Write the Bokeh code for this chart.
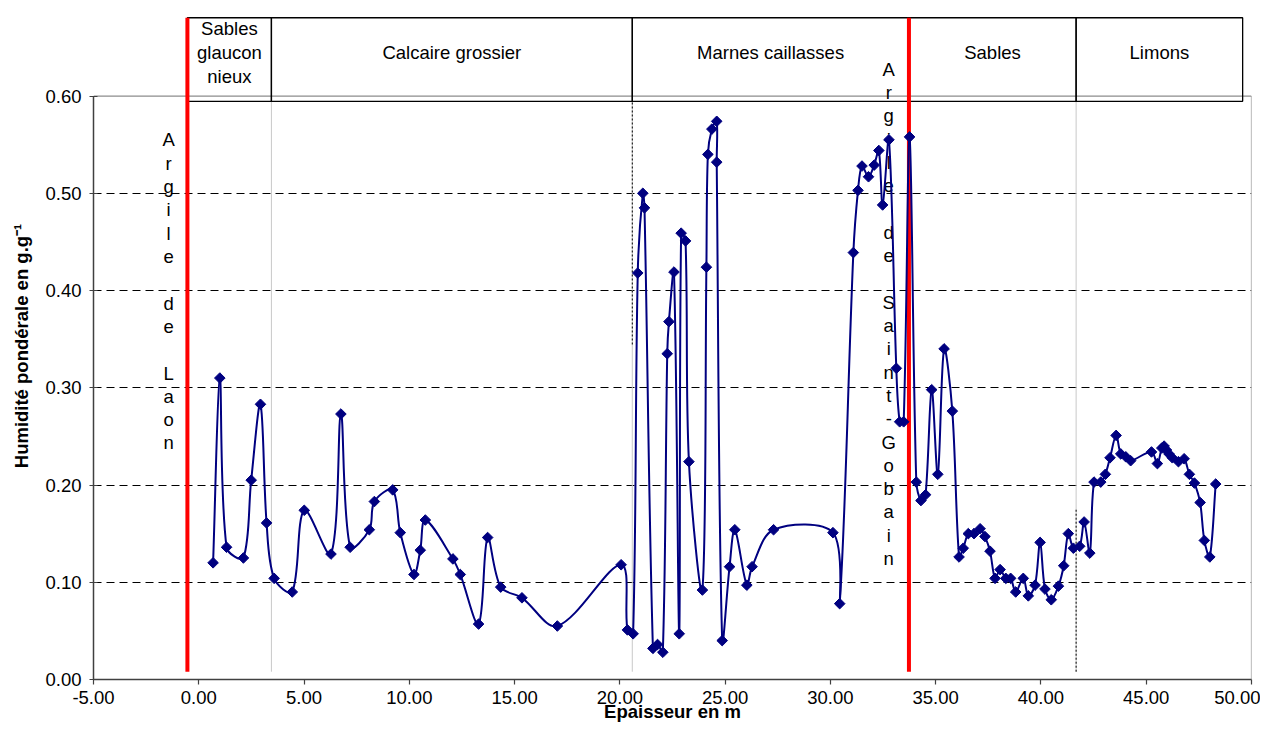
import numpy as np
from bokeh.plotting import figure
from bokeh.models import Range1d, FixedTicker, NumeralTickFormatter
from bokeh.core.properties import value
from bokeh.embed import file_html
from bokeh.resources import INLINE

# ---------------- data ----------------
depth = [0.68, 1.00, 1.32, 2.12, 2.49, 2.93, 3.22, 3.58, 4.44, 5.01,
         6.28, 6.75, 7.19, 8.10, 8.34, 9.21, 9.57, 10.22, 10.52, 10.76,
         12.07, 12.42, 13.29, 13.72, 14.34, 15.35, 17.03, 20.06, 20.36, 20.63,
         20.85, 21.09, 21.17, 21.57, 21.79, 22.04, 22.25, 22.33, 22.57, 22.82,
         22.91, 23.12, 23.28, 23.92, 24.11, 24.18, 24.37, 24.60, 24.60, 24.86,
         25.21, 25.46, 26.03, 26.28, 27.30, 30.12, 30.44, 31.09, 31.31, 31.50,
         31.81, 32.08, 32.30, 32.48, 32.78, 33.13, 33.29, 33.48, 33.76, 34.08,
         34.30, 34.52, 34.81, 35.10, 35.40, 35.79, 36.11, 36.31, 36.55, 36.82,
         37.11, 37.34, 37.58, 37.82, 38.06, 38.33, 38.56, 38.80, 39.16, 39.40,
         39.72, 39.96, 40.19, 40.49, 40.83, 41.08, 41.30, 41.54, 41.84, 42.05,
         42.32, 42.52, 42.84, 43.06, 43.28, 43.57, 43.79, 44.03, 44.26, 45.25,
         45.53, 45.74, 45.85, 45.96, 46.08, 46.24, 46.53, 46.80, 47.05, 47.29,
         47.56, 47.76, 48.02, 48.30]
humidity = [0.120, 0.310, 0.136, 0.125, 0.205, 0.283, 0.161, 0.104, 0.090, 0.174,
            0.129, 0.273, 0.136, 0.154, 0.183, 0.195, 0.151, 0.108, 0.133, 0.164,
            0.124, 0.108, 0.057, 0.146, 0.095, 0.084, 0.055, 0.118, 0.051, 0.047,
            0.418, 0.500, 0.485, 0.032, 0.036, 0.028, 0.335, 0.368, 0.419, 0.047,
            0.459, 0.451, 0.224, 0.092, 0.424, 0.540, 0.566, 0.574, 0.532, 0.040,
            0.116, 0.154, 0.097, 0.116, 0.154, 0.151, 0.078, 0.439, 0.503, 0.528,
            0.517, 0.529, 0.544, 0.488, 0.555, 0.320, 0.265, 0.265, 0.558, 0.203,
            0.184, 0.190, 0.298, 0.211, 0.340, 0.276, 0.126, 0.135, 0.150, 0.150,
            0.155, 0.147, 0.132, 0.104, 0.113, 0.104, 0.104, 0.090, 0.104, 0.086,
            0.097, 0.141, 0.093, 0.082, 0.096, 0.117, 0.150, 0.135, 0.137, 0.162,
            0.130, 0.203, 0.203, 0.211, 0.228, 0.251, 0.232, 0.229, 0.225, 0.234,
            0.222, 0.238, 0.240, 0.236, 0.232, 0.228, 0.224, 0.227, 0.211, 0.202,
            0.182, 0.143, 0.126, 0.201]

layer_names = ["Sables\nglaucon\nnieux", "Calcaire grossier", "Marnes caillasses",
               "Sables", "Limons"]
layer_bounds = [-0.54, 3.45, 20.59, 33.73, 41.67, 49.58]
clay_names = ["Argile de Laon", "Argile de Saint-Gobain"]
clay_pos = [-0.54, 33.73]
clay_label_x = [-1.43, 32.77]
clay_label_y = [0.399, 0.376]

x_ticks = [-5, 0, 5, 10, 15, 20, 25, 30, 35, 40, 45, 50]
y_ticks = [0.0, 0.1, 0.2, 0.3, 0.4, 0.5, 0.6]
grid_ticks = [0.1, 0.2, 0.3, 0.4, 0.5]

x_title = "Epaisseur en m"
y_title = "Humidité pondérale en g.g⁻¹"

# header geometry (data units)
HEAD_BOTTOM = 0.5946
HEAD_TOP = 0.6805
HEAD_TEXT_Y = 0.6447
LINE_BOTTOM = 0.008
Y_MAX = 0.6859

FONT = "Liberation Sans"
FS = "18.5px"
NAVY = "#000080"

p = figure(width=1260, height=726, x_range=Range1d(x_ticks[0], x_ticks[-1]),
           y_range=Range1d(0, Y_MAX),
           output_backend="svg", toolbar_location=None,
           min_border_left=93, min_border_right=9, min_border_top=12, min_border_bottom=47)
p.outline_line_color = None
p.background_fill_color = "white"

# axes
p.xaxis.ticker = FixedTicker(ticks=x_ticks)
p.yaxis.ticker = FixedTicker(ticks=y_ticks)
p.xaxis.formatter = NumeralTickFormatter(format="0.00")
p.yaxis.formatter = NumeralTickFormatter(format="0.00")
p.yaxis.bounds = (y_ticks[0], y_ticks[-1])
p.xaxis.bounds = (x_ticks[0], x_ticks[-1])
for ax in (p.xaxis, p.yaxis):
    ax.major_label_text_font = FONT
    ax.major_label_text_font_size = FS
    ax.major_label_text_color = "black"
    ax.axis_label_text_font = FONT
    ax.axis_label_text_font_size = FS
    ax.axis_label_text_font_style = "bold"
    ax.axis_label_text_color = "black"
    ax.axis_line_color = "#404040"
    ax.axis_line_width = 1.5
    ax.major_tick_line_color = "#404040"
    ax.major_tick_line_width = 1.2
    ax.minor_tick_line_color = None
p.xaxis.major_tick_in = 0
p.xaxis.major_tick_out = 5
p.yaxis.major_tick_in = 4
p.yaxis.major_tick_out = 4
p.xaxis.major_label_standoff = 6
p.yaxis.major_label_standoff = 8
p.xaxis.axis_label = x_title
p.yaxis.axis_label = y_title
p.xaxis.axis_label_standoff = -6
p.yaxis.axis_label_standoff = 10

p.xgrid.visible = False
p.ygrid.ticker = FixedTicker(ticks=grid_ticks)
p.ygrid.grid_line_color = "black"
p.ygrid.grid_line_dash = "8 5"
p.ygrid.grid_line_width = 1

# plot area border (top, right)
p.segment(x0=[x_ticks[0], x_ticks[-1]], y0=[y_ticks[-1], y_ticks[0]],
          x1=[x_ticks[-1], x_ticks[-1]], y1=[y_ticks[-1], y_ticks[-1]],
          line_color="#8c8c8c", line_width=1.2)

# layer separators extending into the plot
sep_x = [layer_bounds[1], layer_bounds[2], layer_bounds[4]]
p.segment(x0=sep_x, y0=[LINE_BOTTOM] * 3, x1=sep_x, y1=[HEAD_BOTTOM] * 3,
          line_color="#c8c8c8", line_width=1)
p.segment(x0=[layer_bounds[2], layer_bounds[4]], y0=[0.3445, LINE_BOTTOM],
          x1=[layer_bounds[2], layer_bounds[4]], y1=[HEAD_BOTTOM, 0.1765],
          line_color="black", line_width=1, line_dash="2 2")

# header boxes
p.quad(left=layer_bounds[:-1], right=layer_bounds[1:], bottom=HEAD_BOTTOM, top=HEAD_TOP,
       fill_color=None, line_color="black", line_width=1.3)
centers = [(a + b) / 2 for a, b in zip(layer_bounds[:-1], layer_bounds[1:])]
p.text(x=centers, y=[HEAD_TEXT_Y] * len(centers), text=layer_names,
       text_align="center", text_baseline="middle", text_font=value(FONT),
       text_font_size=FS, text_color="black", text_line_height=1.15)

# clay marker lines
p.segment(x0=clay_pos, y0=[LINE_BOTTOM] * 2, x1=clay_pos, y1=[HEAD_TOP] * 2,
          line_color="#ff0000", line_width=4)
p.text(x=clay_label_x, y=clay_label_y, text=["\n".join(list(s)) for s in clay_names],
       text_align="center", text_baseline="middle", text_font=value(FONT),
       text_font_size=FS, text_color="black", text_line_height=1.11)

# smoothed curve: Bezier segments with chord-length scaled tangents (screen space)
SX = 1158 / (x_ticks[-1] - x_ticks[0])
SY = 667 / Y_MAX
x = np.array(depth)
y = np.array(humidity)
d = np.hypot(np.diff(x) * SX, np.diff(y) * SY)
xprev = np.concatenate([[x[0]], x[:-2]])
yprev = np.concatenate([[y[0]], y[:-2]])
dprev = np.concatenate([[0.0], d[:-1]])
xnext = np.concatenate([x[2:], [x[-1]]])
ynext = np.concatenate([y[2:], [y[-1]]])
dnext = np.concatenate([d[1:], [0.0]])
w0 = d / (dprev + d) / 3
w1 = d / (d + dnext) / 3
cx0 = x[:-1] + (x[1:] - xprev) * w0
cy0 = y[:-1] + (y[1:] - yprev) * w0
cx1 = x[1:] - (xnext - x[:-1]) * w1
cy1 = y[1:] - (ynext - y[:-1]) * w1
p.bezier(x0=x[:-1], y0=y[:-1], x1=x[1:], y1=y[1:], cx0=cx0, cy0=cy0, cx1=cx1, cy1=cy1,
         line_color=NAVY, line_width=2)
p.scatter(x=depth, y=humidity, marker="square", angle=np.pi / 4, size=7.5,
          fill_color=NAVY, line_color=NAVY)

open("out.html", "w").write(file_html(p, INLINE))
